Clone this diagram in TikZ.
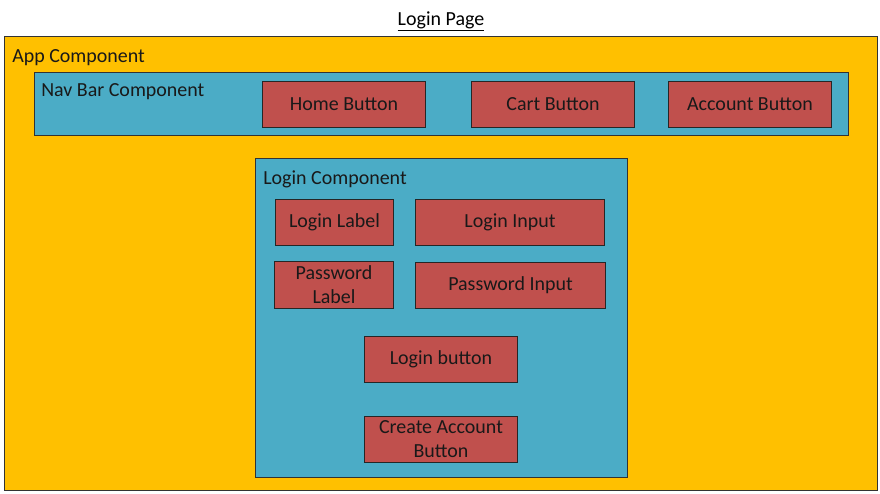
\documentclass[tikz,border=0pt]{standalone}
\usepackage{fontspec}
\setmainfont{Carlito}
\definecolor{appgold}{HTML}{FFC000}
\definecolor{compteal}{HTML}{4BACC6}
\definecolor{btnred}{HTML}{C0504D}

\begin{document}
\begin{tikzpicture}[x=0.025cm, y=-0.025cm,
        every node/.style={font=\fontsize{14.2}{17}\selectfont},
        container/.style={draw=black!80, line width=0.7pt, rectangle, inner sep=0pt},
        widget/.style={draw=black!85, line width=0.7pt, fill=btnred, rectangle, inner sep=0pt,
            minimum height=1.15cm, align=center, text=black!90},
        caption/.style={anchor=base west, inner sep=0pt, text=black!90}]

    \useasboundingbox (0,0) rectangle (880,493);

    \node (title) [anchor=base, inner sep=0pt] at (441,25) {\underline{Login Page}};

    % outer app box
    \node (app) [container, fill=appgold, minimum width=21.8cm, minimum height=11.325cm] at (441,263.5) {};
    \node (applabel) [caption] at (12,62) {App Component};

    % nav bar with its buttons
    \node (nav) [container, fill=compteal, minimum width=20.325cm, minimum height=1.575cm] at (441.5,103.5) {};
    \node (navlabel) [caption] at (41,96) {Nav Bar Component};
    \node (home) [widget, minimum width=4.05cm] at (344,104) {Home Button};
    \node (cart) [widget, minimum width=4.05cm] at (553,104) {Cart Button};
    \node (account) [widget, minimum width=4.05cm] at (750,104) {Account Button};

    % login form
    \node (login) [container, fill=compteal, minimum width=9.275cm, minimum height=7.95cm] at (441.5,318) {};
    \node (loginlabel) [caption] at (263,184) {Login Component};
    \node (userlbl) [widget, minimum width=2.925cm] at (334.5,222) {Login Label};
    \node (userin) [widget, minimum width=4.7cm] at (510,222) {Login Input};
    \node (passlbl) [widget, minimum width=2.95cm, minimum height=1.175cm] at (334,284.5) {Password\\Label};
    \node (passin) [widget, minimum width=4.725cm] at (510.5,285) {Password Input};
    \node (loginbtn) [widget, minimum width=3.8cm] at (441,359) {Login button};
    \node (createbtn) [widget, minimum width=3.8cm] at (441,439) {Create Account\\Button};
\end{tikzpicture}
\end{document}
